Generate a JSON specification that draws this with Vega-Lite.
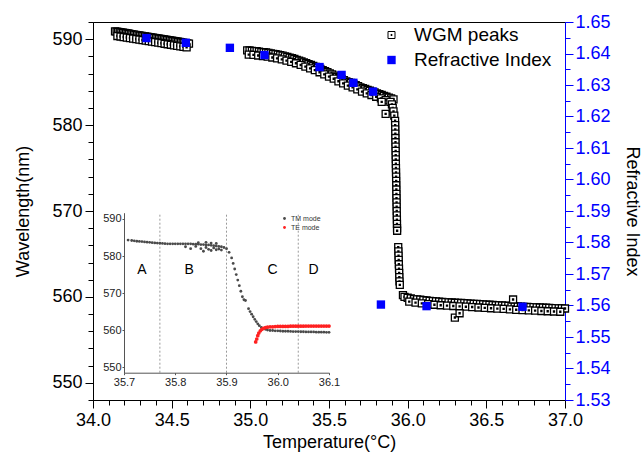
{
  "$schema": "https://vega.github.io/schema/vega-lite/v6.json",
  "width": 472,
  "height": 378,
  "autosize": {"type": "none"},
  "padding": {"left": 93, "top": 22, "right": 78, "bottom": 56},
  "config": {
    "font": "Liberation Sans",
    "view": {"stroke": "black", "strokeWidth": 1},
    "axis": {"grid": false, "titleFontWeight": "normal", "labelFont": "Liberation Sans", "titleFont": "Liberation Sans", "labelOverlap": false},
    "legend": {"labelFont": "Liberation Sans"}
  },
  "datasets": {
    "wgm": [
      {"T": 34.14, "wl": 590.9}, {"T": 34.15, "wl": 590.87}, {"T": 34.16, "wl": 590.84}, {"T": 34.17, "wl": 590.81}, {"T": 34.18, "wl": 590.78},
      {"T": 34.19, "wl": 590.75}, {"T": 34.2, "wl": 590.72}, {"T": 34.21, "wl": 590.69}, {"T": 34.22, "wl": 590.66}, {"T": 34.23, "wl": 590.63},
      {"T": 34.24, "wl": 590.6}, {"T": 34.25, "wl": 590.57}, {"T": 34.26, "wl": 590.54}, {"T": 34.27, "wl": 590.51}, {"T": 34.28, "wl": 590.48},
      {"T": 34.29, "wl": 590.45}, {"T": 34.3, "wl": 590.42}, {"T": 34.31, "wl": 590.39}, {"T": 34.32, "wl": 590.36}, {"T": 34.33, "wl": 590.33},
      {"T": 34.34, "wl": 590.3}, {"T": 34.35, "wl": 590.27}, {"T": 34.36, "wl": 590.24}, {"T": 34.37, "wl": 590.21}, {"T": 34.38, "wl": 590.18},
      {"T": 34.39, "wl": 590.15}, {"T": 34.4, "wl": 590.12}, {"T": 34.41, "wl": 590.09}, {"T": 34.42, "wl": 590.06}, {"T": 34.43, "wl": 590.03},
      {"T": 34.44, "wl": 590.0}, {"T": 34.45, "wl": 589.97}, {"T": 34.46, "wl": 589.94}, {"T": 34.47, "wl": 589.91}, {"T": 34.48, "wl": 589.88},
      {"T": 34.49, "wl": 589.85}, {"T": 34.5, "wl": 589.82}, {"T": 34.51, "wl": 589.79}, {"T": 34.52, "wl": 589.76}, {"T": 34.53, "wl": 589.73},
      {"T": 34.54, "wl": 589.7}, {"T": 34.55, "wl": 589.67}, {"T": 34.56, "wl": 589.64}, {"T": 34.57, "wl": 589.61}, {"T": 34.58, "wl": 589.58},
      {"T": 34.59, "wl": 589.55}, {"T": 34.6, "wl": 589.52}, {"T": 34.61, "wl": 589.49},
      {"T": 34.155, "wl": 590.37}, {"T": 34.175, "wl": 590.31}, {"T": 34.195, "wl": 590.25}, {"T": 34.215, "wl": 590.19}, {"T": 34.235, "wl": 590.13},
      {"T": 34.255, "wl": 590.07}, {"T": 34.275, "wl": 590.01}, {"T": 34.295, "wl": 589.95}, {"T": 34.315, "wl": 589.89}, {"T": 34.335, "wl": 589.83},
      {"T": 34.355, "wl": 589.77}, {"T": 34.375, "wl": 589.71}, {"T": 34.395, "wl": 589.65}, {"T": 34.415, "wl": 589.59}, {"T": 34.435, "wl": 589.53},
      {"T": 34.455, "wl": 589.47}, {"T": 34.475, "wl": 589.41}, {"T": 34.495, "wl": 589.35}, {"T": 34.515, "wl": 589.29}, {"T": 34.535, "wl": 589.23},
      {"T": 34.555, "wl": 589.17}, {"T": 34.575, "wl": 589.11}, {"T": 34.595, "wl": 589.05},
      {"T": 34.98, "wl": 588.7}, {"T": 34.995, "wl": 588.68}, {"T": 35.01, "wl": 588.65}, {"T": 35.025, "wl": 588.62}, {"T": 35.04, "wl": 588.6},
      {"T": 35.055, "wl": 588.55}, {"T": 35.07, "wl": 588.5}, {"T": 35.085, "wl": 588.48}, {"T": 35.1, "wl": 588.45}, {"T": 35.115, "wl": 588.4},
      {"T": 35.13, "wl": 588.35}, {"T": 35.145, "wl": 588.3}, {"T": 35.16, "wl": 588.25}, {"T": 35.175, "wl": 588.2}, {"T": 35.19, "wl": 588.15},
      {"T": 35.205, "wl": 588.08}, {"T": 35.22, "wl": 588.0}, {"T": 35.235, "wl": 587.93}, {"T": 35.25, "wl": 587.85}, {"T": 35.265, "wl": 587.78},
      {"T": 35.28, "wl": 587.7}, {"T": 35.295, "wl": 587.6}, {"T": 35.31, "wl": 587.5}, {"T": 35.325, "wl": 587.4}, {"T": 35.34, "wl": 587.3},
      {"T": 35.355, "wl": 587.2}, {"T": 35.37, "wl": 587.1}, {"T": 35.385, "wl": 587.0}, {"T": 35.4, "wl": 586.9}, {"T": 35.415, "wl": 586.78},
      {"T": 35.43, "wl": 586.65}, {"T": 35.445, "wl": 586.53}, {"T": 35.46, "wl": 586.4}, {"T": 35.475, "wl": 586.28}, {"T": 35.49, "wl": 586.15},
      {"T": 35.505, "wl": 586.03}, {"T": 35.52, "wl": 585.9}, {"T": 35.535, "wl": 585.75}, {"T": 35.55, "wl": 585.6}, {"T": 35.565, "wl": 585.48},
      {"T": 35.58, "wl": 585.35}, {"T": 35.595, "wl": 585.23}, {"T": 35.61, "wl": 585.1}, {"T": 35.625, "wl": 585.0}, {"T": 35.64, "wl": 584.9},
      {"T": 35.655, "wl": 584.78}, {"T": 35.67, "wl": 584.65}, {"T": 35.685, "wl": 584.53}, {"T": 35.7, "wl": 584.4}, {"T": 35.715, "wl": 584.3},
      {"T": 35.73, "wl": 584.2}, {"T": 35.745, "wl": 584.1}, {"T": 35.76, "wl": 584.0}, {"T": 35.775, "wl": 583.9}, {"T": 35.79, "wl": 583.8},
      {"T": 35.805, "wl": 583.7}, {"T": 35.82, "wl": 583.6}, {"T": 35.835, "wl": 583.5}, {"T": 35.85, "wl": 583.4}, {"T": 35.865, "wl": 583.3},
      {"T": 35.88, "wl": 583.2}, {"T": 35.895, "wl": 583.1}, {"T": 35.91, "wl": 583.0},
      {"T": 34.99, "wl": 588.2}, {"T": 35.02, "wl": 588.17}, {"T": 35.05, "wl": 588.1}, {"T": 35.08, "wl": 588.03}, {"T": 35.11, "wl": 587.97},
      {"T": 35.14, "wl": 587.87}, {"T": 35.17, "wl": 587.77}, {"T": 35.2, "wl": 587.65}, {"T": 35.23, "wl": 587.5}, {"T": 35.26, "wl": 587.35},
      {"T": 35.29, "wl": 587.2}, {"T": 35.32, "wl": 587.0}, {"T": 35.35, "wl": 586.8}, {"T": 35.38, "wl": 586.6}, {"T": 35.41, "wl": 586.4},
      {"T": 35.44, "wl": 586.15}, {"T": 35.47, "wl": 585.9}, {"T": 35.5, "wl": 585.65}, {"T": 35.53, "wl": 585.4}, {"T": 35.56, "wl": 585.1},
      {"T": 35.59, "wl": 584.85}, {"T": 35.62, "wl": 584.6}, {"T": 35.65, "wl": 584.4}, {"T": 35.68, "wl": 584.15}, {"T": 35.71, "wl": 583.9},
      {"T": 35.74, "wl": 583.7}, {"T": 35.77, "wl": 583.5}, {"T": 35.8, "wl": 583.3}, {"T": 35.83, "wl": 583.1}, {"T": 35.86, "wl": 582.9},
      {"T": 35.89, "wl": 582.7},
      {"T": 35.835, "wl": 582.7}, {"T": 35.86, "wl": 581.3}, {"T": 35.9, "wl": 582.4}, {"T": 35.905, "wl": 582.0}, {"T": 35.91, "wl": 581.6},
      {"T": 35.915, "wl": 581.1},
      {"T": 35.92, "wl": 580.5}, {"T": 35.9205, "wl": 580.0}, {"T": 35.921, "wl": 579.5}, {"T": 35.9215, "wl": 579.0}, {"T": 35.922, "wl": 578.5},
      {"T": 35.9225, "wl": 578.0}, {"T": 35.923, "wl": 577.5}, {"T": 35.9235, "wl": 577.0}, {"T": 35.924, "wl": 576.5}, {"T": 35.9245, "wl": 576.0},
      {"T": 35.925, "wl": 575.5}, {"T": 35.9255, "wl": 575.0}, {"T": 35.926, "wl": 574.5}, {"T": 35.9265, "wl": 574.0}, {"T": 35.927, "wl": 573.5},
      {"T": 35.9275, "wl": 573.0}, {"T": 35.928, "wl": 572.5}, {"T": 35.9285, "wl": 572.0}, {"T": 35.929, "wl": 571.5}, {"T": 35.9295, "wl": 571.0},
      {"T": 35.93, "wl": 570.5}, {"T": 35.9305, "wl": 570.0}, {"T": 35.931, "wl": 569.5}, {"T": 35.9315, "wl": 569.0}, {"T": 35.932, "wl": 568.5},
      {"T": 35.9325, "wl": 568.0}, {"T": 35.933, "wl": 567.7},
      {"T": 35.94, "wl": 565.8}, {"T": 35.941, "wl": 565.3}, {"T": 35.942, "wl": 564.8}, {"T": 35.943, "wl": 564.3}, {"T": 35.944, "wl": 563.8},
      {"T": 35.945, "wl": 563.3}, {"T": 35.946, "wl": 562.8}, {"T": 35.947, "wl": 562.3}, {"T": 35.948, "wl": 561.8}, {"T": 35.95, "wl": 561.4},
      {"T": 35.97, "wl": 560.2},
      {"T": 35.98, "wl": 560.0}, {"T": 36.0, "wl": 559.9}, {"T": 36.02, "wl": 559.82}, {"T": 36.04, "wl": 559.75}, {"T": 36.06, "wl": 559.72},
      {"T": 36.08, "wl": 559.68}, {"T": 36.1, "wl": 559.62}, {"T": 36.12, "wl": 559.58}, {"T": 36.14, "wl": 559.54}, {"T": 36.16, "wl": 559.5},
      {"T": 36.18, "wl": 559.47}, {"T": 36.2, "wl": 559.44}, {"T": 36.22, "wl": 559.41}, {"T": 36.24, "wl": 559.4}, {"T": 36.26, "wl": 559.37},
      {"T": 36.28, "wl": 559.35}, {"T": 36.3, "wl": 559.32}, {"T": 36.32, "wl": 559.3}, {"T": 36.34, "wl": 559.29}, {"T": 36.36, "wl": 559.27},
      {"T": 36.38, "wl": 559.24}, {"T": 36.4, "wl": 559.21}, {"T": 36.42, "wl": 559.2}, {"T": 36.44, "wl": 559.19}, {"T": 36.46, "wl": 559.16},
      {"T": 36.48, "wl": 559.12}, {"T": 36.5, "wl": 559.1}, {"T": 36.52, "wl": 559.09}, {"T": 36.54, "wl": 559.06}, {"T": 36.56, "wl": 559.03},
      {"T": 36.58, "wl": 559.01}, {"T": 36.6, "wl": 559.0}, {"T": 36.62, "wl": 558.98}, {"T": 36.64, "wl": 558.95}, {"T": 36.66, "wl": 558.92},
      {"T": 36.68, "wl": 558.9}, {"T": 36.7, "wl": 558.89}, {"T": 36.72, "wl": 558.87}, {"T": 36.74, "wl": 558.85}, {"T": 36.76, "wl": 558.84},
      {"T": 36.78, "wl": 558.82}, {"T": 36.8, "wl": 558.8}, {"T": 36.82, "wl": 558.79}, {"T": 36.84, "wl": 558.77}, {"T": 36.86, "wl": 558.75},
      {"T": 36.88, "wl": 558.74}, {"T": 36.9, "wl": 558.72}, {"T": 36.92, "wl": 558.7}, {"T": 36.94, "wl": 558.69}, {"T": 36.96, "wl": 558.67},
      {"T": 36.98, "wl": 558.66}, {"T": 37.0, "wl": 558.65},
      {"T": 36.01, "wl": 559.45}, {"T": 36.05, "wl": 559.33}, {"T": 36.09, "wl": 559.25}, {"T": 36.13, "wl": 559.16}, {"T": 36.17, "wl": 559.09},
      {"T": 36.21, "wl": 559.03}, {"T": 36.25, "wl": 558.98}, {"T": 36.29, "wl": 558.94}, {"T": 36.33, "wl": 558.9}, {"T": 36.37, "wl": 558.86},
      {"T": 36.41, "wl": 558.82}, {"T": 36.45, "wl": 558.77}, {"T": 36.49, "wl": 558.72}, {"T": 36.53, "wl": 558.68}, {"T": 36.57, "wl": 558.63},
      {"T": 36.61, "wl": 558.6}, {"T": 36.65, "wl": 558.55}, {"T": 36.69, "wl": 558.5}, {"T": 36.73, "wl": 558.47}, {"T": 36.77, "wl": 558.44},
      {"T": 36.81, "wl": 558.4}, {"T": 36.85, "wl": 558.36}, {"T": 36.89, "wl": 558.33}, {"T": 36.93, "wl": 558.3}, {"T": 36.97, "wl": 558.27},
      {"T": 36.3, "wl": 557.6}, {"T": 36.33, "wl": 558.1}, {"T": 36.67, "wl": 559.7}
    ],
    "ri": [
      {"T": 34.34, "n": 1.6449}, {"T": 34.59, "n": 1.6434}, {"T": 34.87, "n": 1.6418}, {"T": 35.09, "n": 1.6395},
      {"T": 35.44, "n": 1.6357}, {"T": 35.58, "n": 1.6332}, {"T": 35.655, "n": 1.6307}, {"T": 35.78, "n": 1.6279},
      {"T": 35.83, "n": 1.5603}, {"T": 36.12, "n": 1.5598}, {"T": 36.73, "n": 1.5596}
    ],
    "tm": [
      {"T": 35.708, "wl": 584.3}, {"T": 35.715, "wl": 584.2}, {"T": 35.72, "wl": 584.1}, {"T": 35.725, "wl": 584.0}, {"T": 35.73, "wl": 583.95},
      {"T": 35.735, "wl": 583.9}, {"T": 35.74, "wl": 583.8}, {"T": 35.745, "wl": 583.75}, {"T": 35.75, "wl": 583.7}, {"T": 35.755, "wl": 583.6},
      {"T": 35.76, "wl": 583.55}, {"T": 35.765, "wl": 583.5}, {"T": 35.77, "wl": 583.45}, {"T": 35.775, "wl": 583.4}, {"T": 35.78, "wl": 583.35},
      {"T": 35.785, "wl": 583.3}, {"T": 35.79, "wl": 583.3}, {"T": 35.795, "wl": 583.3}, {"T": 35.8, "wl": 583.3}, {"T": 35.805, "wl": 583.3},
      {"T": 35.81, "wl": 583.3}, {"T": 35.815, "wl": 583.3}, {"T": 35.82, "wl": 583.3}, {"T": 35.825, "wl": 583.3}, {"T": 35.83, "wl": 583.3},
      {"T": 35.835, "wl": 583.2}, {"T": 35.84, "wl": 583.2}, {"T": 35.845, "wl": 583.2}, {"T": 35.85, "wl": 583.1}, {"T": 35.855, "wl": 583.1},
      {"T": 35.86, "wl": 583.0}, {"T": 35.865, "wl": 583.0}, {"T": 35.87, "wl": 582.9}, {"T": 35.875, "wl": 582.8}, {"T": 35.88, "wl": 582.7},
      {"T": 35.885, "wl": 582.6}, {"T": 35.89, "wl": 582.5}, {"T": 35.895, "wl": 582.3}, {"T": 35.9, "wl": 582.0}, {"T": 35.905, "wl": 581.0},
      {"T": 35.91, "wl": 579.5}, {"T": 35.913, "wl": 578.0}, {"T": 35.916, "wl": 576.5}, {"T": 35.919, "wl": 575.0}, {"T": 35.922, "wl": 573.5},
      {"T": 35.925, "wl": 572.0}, {"T": 35.928, "wl": 570.5}, {"T": 35.931, "wl": 569.0}, {"T": 35.934, "wl": 568.2}, {"T": 35.937, "wl": 568.0},
      {"T": 35.943, "wl": 565.8}, {"T": 35.946, "wl": 565.0}, {"T": 35.949, "wl": 564.3}, {"T": 35.952, "wl": 563.6}, {"T": 35.955, "wl": 562.9},
      {"T": 35.958, "wl": 562.3}, {"T": 35.961, "wl": 561.7}, {"T": 35.964, "wl": 561.2}, {"T": 35.968, "wl": 560.7}, {"T": 35.972, "wl": 560.4},
      {"T": 35.976, "wl": 560.2}, {"T": 35.98, "wl": 560.0}, {"T": 35.985, "wl": 559.9}, {"T": 35.99, "wl": 559.9}, {"T": 35.995, "wl": 559.8},
      {"T": 36.0, "wl": 559.8}, {"T": 36.005, "wl": 559.75}, {"T": 36.01, "wl": 559.7}, {"T": 36.015, "wl": 559.7}, {"T": 36.02, "wl": 559.7},
      {"T": 36.025, "wl": 559.65}, {"T": 36.03, "wl": 559.6}, {"T": 36.035, "wl": 559.6}, {"T": 36.04, "wl": 559.6}, {"T": 36.045, "wl": 559.55},
      {"T": 36.05, "wl": 559.55}, {"T": 36.055, "wl": 559.5}, {"T": 36.06, "wl": 559.5}, {"T": 36.065, "wl": 559.5}, {"T": 36.07, "wl": 559.5},
      {"T": 36.075, "wl": 559.45}, {"T": 36.08, "wl": 559.45}, {"T": 36.085, "wl": 559.45}, {"T": 36.09, "wl": 559.45}, {"T": 36.095, "wl": 559.4},
      {"T": 36.1, "wl": 559.4},
      {"T": 35.82, "wl": 582.5}, {"T": 35.83, "wl": 582.0}, {"T": 35.84, "wl": 582.6}, {"T": 35.845, "wl": 583.6}, {"T": 35.85, "wl": 582.0},
      {"T": 35.855, "wl": 581.3}, {"T": 35.86, "wl": 582.3}, {"T": 35.86, "wl": 583.7}, {"T": 35.865, "wl": 581.8}, {"T": 35.87, "wl": 581.5},
      {"T": 35.87, "wl": 583.5}, {"T": 35.875, "wl": 582.2}, {"T": 35.88, "wl": 581.7}, {"T": 35.88, "wl": 583.4}, {"T": 35.885, "wl": 581.9},
      {"T": 35.89, "wl": 581.6}
    ],
    "te": [
      {"T": 35.957, "wl": 556.8}, {"T": 35.959, "wl": 557.6}, {"T": 35.961, "wl": 558.5}, {"T": 35.963, "wl": 559.2}, {"T": 35.966, "wl": 559.8},
      {"T": 35.969, "wl": 560.2}, {"T": 35.972, "wl": 560.5}, {"T": 35.976, "wl": 560.7}, {"T": 35.98, "wl": 560.8}, {"T": 35.985, "wl": 560.9},
      {"T": 35.99, "wl": 560.9}, {"T": 35.995, "wl": 560.95}, {"T": 36.0, "wl": 561.0}, {"T": 36.005, "wl": 561.0}, {"T": 36.01, "wl": 561.0},
      {"T": 36.015, "wl": 561.0}, {"T": 36.02, "wl": 561.0}, {"T": 36.025, "wl": 561.05}, {"T": 36.03, "wl": 561.05}, {"T": 36.035, "wl": 561.05},
      {"T": 36.04, "wl": 561.05}, {"T": 36.045, "wl": 561.05}, {"T": 36.05, "wl": 561.05}, {"T": 36.055, "wl": 561.1}, {"T": 36.06, "wl": 561.1},
      {"T": 36.065, "wl": 561.1}, {"T": 36.07, "wl": 561.1}, {"T": 36.075, "wl": 561.1}, {"T": 36.08, "wl": 561.1}, {"T": 36.085, "wl": 561.1},
      {"T": 36.09, "wl": 561.1}, {"T": 36.095, "wl": 561.1}, {"T": 36.1, "wl": 561.1}
    ],
    "bounds": [{"T": 35.77}, {"T": 35.9}, {"T": 36.04}],
    "regions": [
      {"T": 35.735, "wl": 576.2, "label": "A"}, {"T": 35.827, "wl": 576.2, "label": "B"},
      {"T": 35.99, "wl": 576.2, "label": "C"}, {"T": 36.07, "wl": 576.2, "label": "D"}
    ]
  },
  "layer": [
    {
      "layer": [
        {
          "data": {"name": "wgm"},
          "mark": {"type": "point", "shape": "M-1,-1H1V1H-1Z M-0.15,-0.15H0.15V0.15H-0.15Z", "filled": false, "fill": "white", "size": 49, "strokeWidth": 1.3, "opacity": 1},
          "encoding": {
            "x": {"field": "T", "type": "quantitative", "scale": {"domain": [34, 37], "zero": false, "nice": false},
              "axis": {"orient": "bottom", "title": "Temperature(°C)",
                "values": [34,34.1,34.2,34.3,34.4,34.5,34.6,34.7,34.8,34.9,35,35.1,35.2,35.3,35.4,35.5,35.6,35.7,35.8,35.9,36,36.1,36.2,36.3,36.4,36.5,36.6,36.7,36.8,36.9,37],
                "labelExpr": "abs(datum.value*2 - round(datum.value*2)) < 0.001 ? format(datum.value, '.1f') : ''",
                "tickSize": {"condition": {"test": "abs(datum.value*2 - round(datum.value*2)) < 0.001", "value": 8}, "value": 5},
                "labelFontSize": 18, "titleFontSize": 18, "labelColor": "black", "titleColor": "black", "domainColor": "black", "tickColor": "black",
                "labelPadding": 3, "titlePadding": 4, "labelFlush": false, "labelOverlap": false, "labelBound": false}},
            "y": {"field": "wl", "type": "quantitative", "scale": {"domain": [548, 592], "zero": false, "nice": false},
              "axis": {"orient": "left", "title": "Wavelength(nm)",
                "values": [548,550,552,554,556,558,560,562,564,566,568,570,572,574,576,578,580,582,584,586,588,590,592],
                "labelExpr": "datum.value % 10 === 0 ? format(datum.value, 'd') : ''",
                "tickSize": {"condition": {"test": "datum.value % 10 === 0", "value": 8}, "value": 5},
                "labelFontSize": 18, "titleFontSize": 18, "labelColor": "black", "titleColor": "black", "domainColor": "black", "tickColor": "black",
                "labelPadding": 3, "titlePadding": 19, "labelOverlap": false}},
            "stroke": {"datum": "WGM peaks", "type": "nominal", "scale": {"domain": ["WGM peaks"], "range": ["black"]},
              "legend": {"orient": "none", "legendX": 289, "legendY": 3.5, "title": null, "padding": 0,
                "symbolType": "M-1,-1H1V1H-1Z M-0.15,-0.15H0.15V0.15H-0.15Z", "symbolSize": 49, "symbolStrokeWidth": 1, "symbolFillColor": "white",
                "labelFontSize": 19, "labelColor": "black", "labelOffset": 13}}
          }
        },
        {
          "data": {"name": "ri"},
          "mark": {"type": "point", "shape": "square", "filled": true, "size": 70, "strokeWidth": 0, "opacity": 1},
          "encoding": {
            "x": {"field": "T", "type": "quantitative", "scale": {"domain": [34, 37], "zero": false, "nice": false},
              "axis": {"orient": "bottom", "title": "Temperature(°C)",
                "values": [34,34.1,34.2,34.3,34.4,34.5,34.6,34.7,34.8,34.9,35,35.1,35.2,35.3,35.4,35.5,35.6,35.7,35.8,35.9,36,36.1,36.2,36.3,36.4,36.5,36.6,36.7,36.8,36.9,37],
                "labelExpr": "abs(datum.value*2 - round(datum.value*2)) < 0.001 ? format(datum.value, '.1f') : ''",
                "tickSize": {"condition": {"test": "abs(datum.value*2 - round(datum.value*2)) < 0.001", "value": 8}, "value": 5},
                "labelFontSize": 18, "titleFontSize": 18, "labelColor": "black", "titleColor": "black", "domainColor": "black", "tickColor": "black",
                "labelPadding": 3, "titlePadding": 4, "labelFlush": false, "labelOverlap": false, "labelBound": false}},
            "y": {"field": "n", "type": "quantitative", "scale": {"domain": [1.53, 1.65], "zero": false, "nice": false},
              "axis": {"orient": "right", "title": "Refractive Index",
                "values": [1.53,1.535,1.54,1.545,1.55,1.555,1.56,1.565,1.57,1.575,1.58,1.585,1.59,1.595,1.6,1.605,1.61,1.615,1.62,1.625,1.63,1.635,1.64,1.645,1.65],
                "labelExpr": "abs(datum.value*100 - round(datum.value*100)) < 0.01 ? format(datum.value, '.2f') : ''",
                "tickSize": {"condition": {"test": "abs(datum.value*100 - round(datum.value*100)) < 0.01", "value": 8}, "value": 5},
                "labelFontSize": 18, "titleFontSize": 18, "labelColor": "#0000ff", "titleColor": "black", "domainColor": "#0000ff", "tickColor": "#0000ff",
                "labelPadding": 2, "titlePadding": 12, "labelOverlap": false}},
            "fill": {"datum": "Refractive Index", "type": "nominal", "scale": {"domain": ["Refractive Index"], "range": ["#0000ff"]},
              "legend": {"orient": "none", "legendX": 289, "legendY": 28.5, "title": null, "padding": 0,
                "symbolType": "square", "symbolSize": 70, "symbolStrokeWidth": 0,
                "labelFontSize": 19, "labelColor": "black", "labelOffset": 13}}
          }
        }
      ],
      "resolve": {"scale": {"y": "independent"}}
    },
    {
      "layer": [
        {
          "mark": {"type": "rect", "fill": "white", "stroke": "#b0b0b0", "strokeWidth": 1},
          "encoding": {
            "x": {"datum": 35.7, "type": "quantitative", "scale": {"domain": [35.7, 36.1], "range": [31, 236], "zero": false, "nice": false},
              "axis": {"orient": "bottom", "offset": -27.3, "zindex": 1, "title": null, "values": [35.7, 35.8, 35.9, 36.0, 36.1], "format": ".1f",
                "labelFontSize": 11, "labelColor": "#222222", "domainColor": "#555555", "tickColor": "#555555", "tickSize": 2, "labelPadding": 2,
                "labelFlush": false, "labelOverlap": false, "labelBound": false}},
            "x2": {"datum": 36.1},
            "y": {"datum": 548.5, "type": "quantitative", "scale": {"domain": [548.5, 591.7], "range": [350.7, 190.7], "zero": false, "nice": false},
              "axis": {"orient": "left", "offset": -31, "zindex": 1, "title": null, "values": [550, 560, 570, 580, 590],
                "labelFontSize": 11, "labelColor": "#222222", "domainColor": "#555555", "tickColor": "#555555", "tickSize": 2, "labelPadding": 1,
                "labelOverlap": false}},
            "y2": {"datum": 591.7}
          }
        },
        {
          "data": {"name": "bounds"},
          "mark": {"type": "rule", "color": "#9a9a9a", "strokeWidth": 1, "strokeDash": [2, 2]},
          "encoding": {
            "x": {"field": "T", "type": "quantitative"},
            "y": {"datum": 548.5, "type": "quantitative"},
            "y2": {"datum": 591.7}
          }
        },
        {
          "data": {"name": "tm"},
          "mark": {"type": "point", "shape": "circle", "filled": true, "size": 8, "opacity": 1},
          "encoding": {
            "x": {"field": "T", "type": "quantitative"},
            "y": {"field": "wl", "type": "quantitative"},
            "color": {"datum": "TM mode", "type": "nominal", "scale": {"domain": ["TM mode", "TE mode"], "range": ["#4a4a4a", "#ff2020"]},
              "legend": {"orient": "none", "legendX": 188, "legendY": 193, "title": null, "padding": 0, "symbolType": "circle", "symbolSize": 8,
                "labelFontSize": 7, "labelColor": "#333333", "labelOffset": 3, "rowPadding": 1}}
          }
        },
        {
          "data": {"name": "te"},
          "mark": {"type": "point", "shape": "circle", "filled": true, "size": 14, "opacity": 1},
          "encoding": {
            "x": {"field": "T", "type": "quantitative"},
            "y": {"field": "wl", "type": "quantitative"},
            "color": {"datum": "TE mode", "type": "nominal"}
          }
        },
        {
          "data": {"name": "regions"},
          "mark": {"type": "text", "fontSize": 14, "color": "black", "align": "center", "baseline": "middle"},
          "encoding": {
            "x": {"field": "T", "type": "quantitative"},
            "y": {"field": "wl", "type": "quantitative"},
            "text": {"field": "label"}
          }
        }
      ]
    }
  ],
  "resolve": {"scale": {"x": "independent", "y": "independent"}}
}
